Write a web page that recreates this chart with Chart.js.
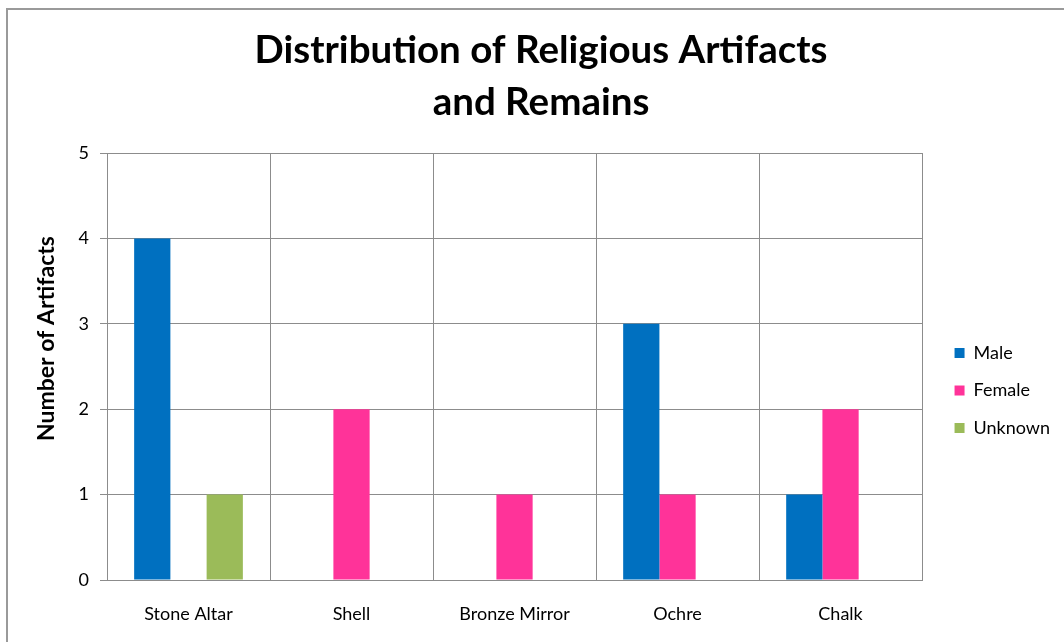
<!DOCTYPE html>
<html>
<head>
<meta charset="utf-8">
<script src="https://cdn.jsdelivr.net/npm/chart.js@4"></script>
<style>
  html, body { margin: 0; padding: 0; background: #fff; }
  #frame {
    position: absolute; left: 6px; top: 8px; width: 1200px; height: 800px;
    border-left: 2px solid #9a9a9a; border-top: 2px solid #9a9a9a;
  }
  #wrap { position: absolute; left: 0; top: 0; width: 1064px; height: 642px; }
</style>
</head>
<body>
<div id="frame"></div>
<div id="wrap"><canvas id="chart" width="1064" height="642"></canvas></div>
<script>
// Artifact counts per category
const categories = ["Stone Altar", "Shell", "Bronze Mirror", "Ochre", "Chalk"];
const maleCounts = [4, 0, 0, 3, 1];
const femaleCounts = [0, 2, 1, 1, 2];
const unknownCounts = [1, 0, 0, 0, 0];
const yTicks = [0, 1, 2, 3, 4, 5];

const FONT = "Lato, 'Open Sans', sans-serif";
const gridColor = "#8c8c8c";

const ctx = document.getElementById("chart").getContext("2d");
new Chart(ctx, {
  type: "bar",
  data: {
    labels: categories,
    datasets: [
      { label: "Male", data: maleCounts, backgroundColor: "#0070c0" },
      { label: "Female", data: femaleCounts, backgroundColor: "#ff3399" },
      { label: "Unknown", data: unknownCounts, backgroundColor: "#9bbb59" }
    ]
  },
  options: {
    responsive: false,
    animation: false,
    layout: { padding: { left: 22, right: 4, top: 0, bottom: 8 } },
    datasets: {
      bar: { barPercentage: 1, categoryPercentage: 0.667, borderWidth: 0 }
    },
    plugins: {
      title: {
        display: true,
        text: ["Distribution of Religious Artifacts", "and Remains"],
        color: "#000",
        font: { family: FONT, size: 38.5, weight: "bold", lineHeight: 1.338 },
        padding: { top: 25, bottom: 25 }
      },
      legend: {
        position: "right",
        fullSize: false,
        // blank title pushes the entries down a little
        title: { display: true, text: " ", font: { size: 10, lineHeight: 1 }, padding: { top: 0, bottom: 38 } },
        labels: {
          color: "#000",
          font: { family: FONT, size: 18 },
          boxWidth: 10,
          boxHeight: 10,
          padding: 19.5
        }
      },
      tooltip: { enabled: false }
    },
    scales: {
      x: {
        grid: { color: gridColor, drawTicks: false, lineWidth: 1 },
        border: { color: gridColor, width: 1 },
        ticks: { color: "#000", font: { family: FONT, size: 18 }, padding: 23 },
        afterFit(scale) { scale.height = 642 - 580 - 8; }
      },
      y: {
        min: 0,
        max: 5,
        afterBuildTicks(scale) { scale.ticks = yTicks.map(v => ({ value: v })); },
        grid: { color: gridColor, tickLength: 7, lineWidth: 1 },
        border: { color: gridColor, width: 1 },
        ticks: { color: "#000", font: { family: FONT, size: 18 }, padding: 11 },
        title: {
          display: true,
          text: "          Number of Artifacts",
          color: "#000",
          font: { family: FONT, size: 23, weight: "bold" },
          padding: { top: 11, bottom: 0 }
        },
        afterFit(scale) { scale.width = 107 - 22; }
      },
      // empty strip between the plot and the legend
      gap: {
        position: "right",
        grid: { display: false },
        border: { display: false },
        ticks: { display: false },
        afterFit(scale) { scale.width = 13; }
      }
    }
  }
});
</script>
</body>
</html>
